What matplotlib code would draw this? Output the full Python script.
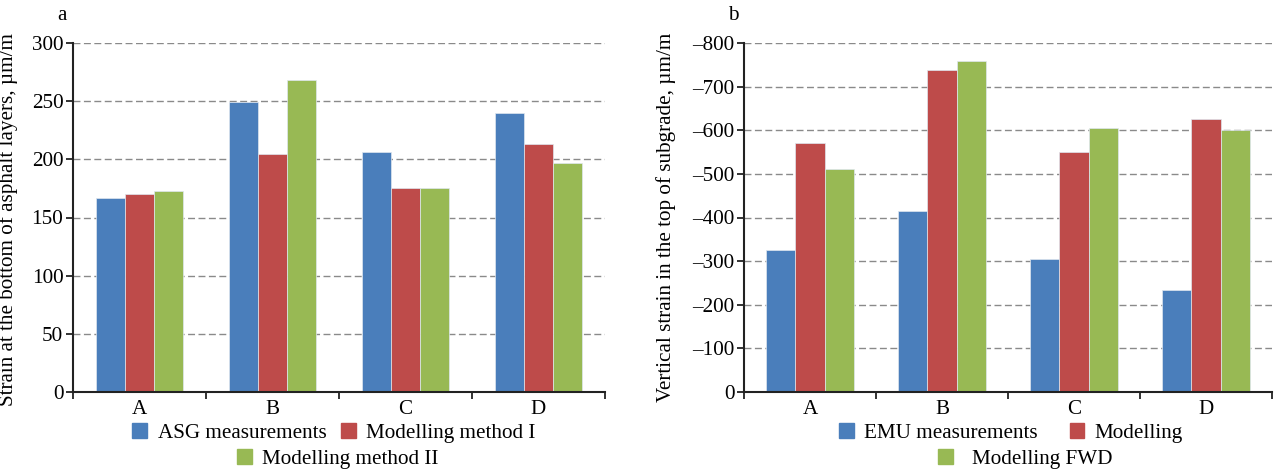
import numpy as np
import matplotlib
matplotlib.use('Agg')
import matplotlib.pyplot as plt
from matplotlib.patches import Patch

plt.rcParams['font.family'] = ['Liberation Serif', 'DejaVu Serif']
plt.rcParams['font.size'] = 15.2

# data
cats = ['A', 'B', 'C', 'D']
asg = [167, 249, 206, 240]
mod_1 = [170, 205, 175, 213]
mod_2 = [173, 268, 175, 197]

emu = [-326, -415, -306, -234]
mod = [-570, -737, -551, -626]
mod_fwd = [-511, -758, -605, -601]

yticks_a = [0, 50, 100, 150, 200, 250, 300]
yticks_b = [0, -100, -200, -300, -400, -500, -600, -700, -800]

c_blue = '#4A7EBB'
c_red = '#BE4B4A'
c_green = '#98B954'
cols = [c_blue, c_red, c_green]

W, H = 1275, 470
fig = plt.figure(figsize=(W/100, H/100), dpi=100)

def px_axes(x0, x1, y0, y1):
    return fig.add_axes([x0/W, 1 - y1/H, (x1 - x0)/W, (y1 - y0)/H])

def style(ax):
    x = np.arange(len(cats))
    ax.set_xlim(-0.5, len(cats) - 0.5)
    ax.set_xticks(x)
    ax.set_xticklabels(cats)
    ax.set_xticks(np.arange(len(cats) + 1) - 0.5, minor=True)
    ax.tick_params(axis='x', which='major', length=0, pad=6)
    ax.tick_params(axis='x', which='minor', length=5, width=1.3, color='#222222')
    ax.tick_params(axis='y', length=5, width=1.3, color='#222222', pad=2)
    for s in ['top', 'right']:
        ax.spines[s].set_visible(False)
    for s in ['left', 'bottom']:
        ax.spines[s].set_linewidth(1.5)
        ax.spines[s].set_color('#222222')
    ax.yaxis.grid(True, linestyle=(0, (5, 2.5)), color='#8a8a8a', linewidth=1.0)
    ax.set_axisbelow(True)

def bars(ax, series):
    x = np.arange(len(cats))
    w = 0.22
    for i, (vals, c) in enumerate(zip(series, cols)):
        ax.bar(x + (i - 1)*w, vals, w, color=c, edgecolor='#dfe7f0', linewidth=0.5)

hk = dict(handlelength=0.7, handleheight=0.7, frameon=False,
          borderaxespad=0, borderpad=0)

# panel a
x0a, x1a = 73, 605
ax1 = px_axes(x0a, x1a, 43, 392)
bars(ax1, [asg, mod_1, mod_2])
ax1.set_ylim(0, 300)
ax1.set_yticks(yticks_a)
ax1.set_yticklabels([str(v) for v in yticks_a])
style(ax1)
ax1.set_ylabel('Strain at the bottom of asphalt layers, \u00b5m/m')
ax1.yaxis.set_label_coords((18 - x0a)/(x1a - x0a), 0.493)
fig.text(62/W, 1 - 15/H, 'a', ha='center', va='center')

leg1 = fig.legend(handles=[Patch(color=c_blue, label='ASG measurements'),
                           Patch(color=c_red, label='Modelling method I')],
                  ncol=2, loc='center', bbox_to_anchor=(334/W, 1 - 433/H),
                  columnspacing=0.7, handletextpad=0.5, **hk)
leg2 = fig.legend(handles=[Patch(color=c_green, label='Modelling method II')],
                  loc='center', bbox_to_anchor=(338/W, 1 - 459/H),
                  handletextpad=0.5, **hk)

# panel b
x0b, x1b = 744, 1272
ax2 = px_axes(x0b, x1b, 43, 392)
bars(ax2, [emu, mod, mod_fwd])
ax2.set_ylim(0, -800)
ax2.set_yticks(yticks_b)
ax2.set_yticklabels(['0' if v == 0 else '\u2013' + str(-v) for v in yticks_b])
style(ax2)
ax2.set_ylabel('Vertical strain in the top of subgrade, \u00b5m/m')
ax2.yaxis.set_label_coords((676 - x0b)/(x1b - x0b), 0.5)
fig.text(733/W, 1 - 15/H, 'b', ha='center', va='center')

leg3 = fig.legend(handles=[Patch(color=c_blue, label='EMU measurements'),
                           Patch(color=c_red, label='Modelling')],
                  ncol=2, loc='center', bbox_to_anchor=(1011/W, 1 - 433/H),
                  columnspacing=1.5, handletextpad=0.5, **hk)
leg4 = fig.legend(handles=[Patch(color=c_green, label='Modelling FWD')],
                  loc='center', bbox_to_anchor=(1025/W, 1 - 459/H),
                  handletextpad=0.9, **hk)

fig.savefig('out.png', dpi=100)
